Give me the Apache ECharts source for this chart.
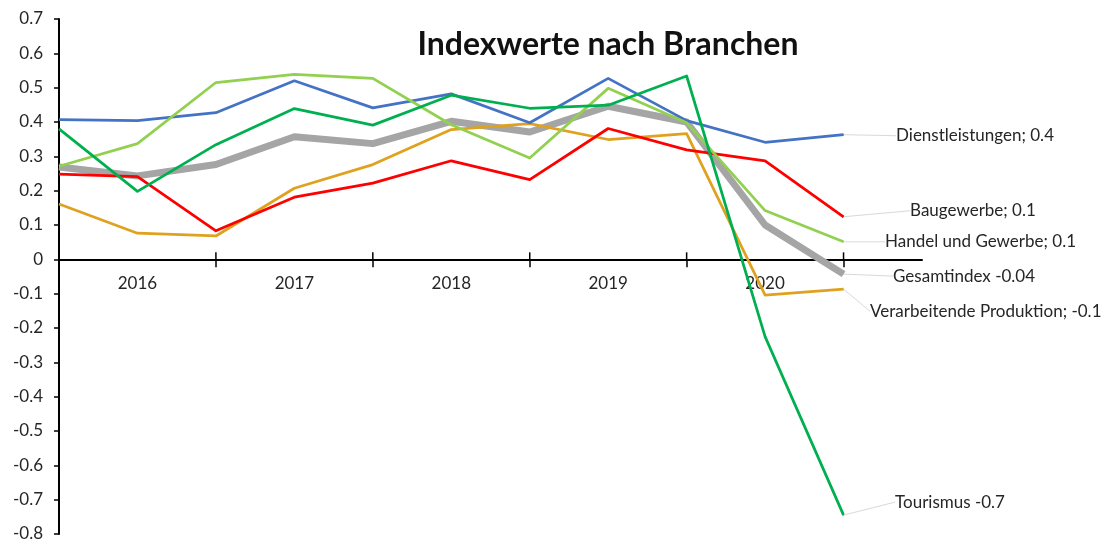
<!DOCTYPE html>
<html>
<head>
<meta charset="utf-8">
<title>Indexwerte nach Branchen</title>
<script src="https://cdn.jsdelivr.net/npm/echarts@6/dist/echarts.min.js"></script>
<style>
  html, body { margin: 0; padding: 0; background: #fff; }
  #chart { width: 1116px; height: 545px; }
</style>
</head>
<body>
<div id="chart"></div>
<script>
// Halbjahres-Stützstellen, Jahreslabel jeweils in der Mitte
var categories = ['', '2016', '', '2017', '', '2018', '', '2019', '', '2020', '', ''];
// Jahresgrenzen (Index in categories), dort sitzen die Striche
var yearBounds = [2, 4, 6, 8, 10];

var gesamtindex     = [0.269, 0.243, 0.276, 0.357, 0.337, 0.402, 0.371, 0.446, 0.400, 0.100, -0.043];
var verarbeitende   = [0.161, 0.076, 0.068, 0.207, 0.276, 0.378, 0.395, 0.349, 0.366, -0.104, -0.087];
var baugewerbe      = [0.248, 0.241, 0.083, 0.181, 0.222, 0.287, 0.232, 0.381, 0.319, 0.287, 0.124];
var handel          = [0.271, 0.337, 0.515, 0.539, 0.527, 0.392, 0.295, 0.498, 0.398, 0.142, 0.051];
var dienstleistung  = [0.407, 0.404, 0.427, 0.520, 0.441, 0.482, 0.398, 0.527, 0.404, 0.341, 0.363];
var tourismus       = [0.380, 0.198, 0.334, 0.439, 0.391, 0.478, 0.440, 0.449, 0.534, -0.225, -0.745];

var endLabels = {
    gesamt: 'Gesamtindex -0.04',
    verarb: 'Verarbeitende Produktion; -0.1',
    bau: 'Baugewerbe; 0.1',
    handel: 'Handel und Gewerbe; 0.1',
    dienst: 'Dienstleistungen; 0.4',
    tour: 'Tourismus -0.7'
};

var FONT = 'Lato, "Open Sans", sans-serif';
var GRID_BOTTOM = 11;

var tickAt = function (index) {
    return yearBounds.indexOf(index) >= 0;
};

// letzter Punkt bekommt das Datenlabel
function withEndLabel(values, text, color, distance) {
    return values.map(function (v, i) {
        if (i !== values.length - 1) return v;
        return {
            value: v,
            symbol: 'circle',
            symbolSize: 1,
            itemStyle: { color: color },
            label: {
                show: true,
                formatter: text,
                position: 'right',
                distance: distance
            }
        };
    });
}

function makeSeries(name, values, text, color, width, distance, dy) {
    return {
        name: name,
        type: 'line',
        data: withEndLabel(values, text, color, distance),
        symbol: 'none',
        showSymbol: true,
        showAllSymbol: true,
        lineStyle: { color: color, width: width, join: 'round' },
        itemStyle: { color: color },
        label: {
            show: false,
            color: '#262626',
            fontSize: 17,
            fontFamily: FONT
        },
        labelLayout: { dy: dy },
        labelLine: {
            show: true,
            lineStyle: { color: '#d9d9d9', width: 1 }
        },
        emphasis: { disabled: true }
    };
}

var chart = echarts.init(document.getElementById('chart'));

chart.setOption({
    animation: false,
    backgroundColor: '#fff',
    textStyle: { fontFamily: FONT },
    title: {
        text: 'Indexwerte nach Branchen',
        left: 603,
        top: 24,
        textAlign: 'center',
        textStyle: { fontSize: 32, fontWeight: 'bold', color: '#111', fontFamily: FONT }
    },
    grid: { left: 59, right: 194, top: 19, bottom: GRID_BOTTOM, outerBoundsMode: 'none' },
    xAxis: {
        type: 'category',
        data: categories,
        boundaryGap: false,
        axisLine: { onZero: false, lineStyle: { color: '#000', width: 2 } },
        axisTick: { show: true, interval: tickAt, length: 8, lineStyle: { color: '#000', width: 1.5 } },
        axisLabel: { interval: 0, margin: 16, color: '#262626', fontSize: 17, fontFamily: FONT },
        splitLine: { show: false }
    },
    yAxis: {
        type: 'value',
        min: -0.8,
        max: 0.7,
        interval: 0.1,
        axisLine: { show: true, lineStyle: { color: '#000', width: 2 } },
        axisTick: { show: true, length: 5, lineStyle: { color: '#000', width: 1.5 } },
        axisLabel: { margin: 16, color: '#262626', fontSize: 17, fontFamily: FONT },
        splitLine: { show: false }
    },
    series: [
        makeSeries('Gesamtindex', gesamtindex, endLabels.gesamt, '#a5a5a5', 7, 49, 2),
        makeSeries('Verarbeitende Produktion', verarbeitende, endLabels.verarb, '#e0a21e', 2.75, 26, 22),
        makeSeries('Baugewerbe', baugewerbe, endLabels.bau, '#ff0000', 2.75, 66, -6),
        makeSeries('Dienstleistungen', dienstleistung, endLabels.dienst, '#4472c4', 2.75, 52, 1),
        makeSeries('Handel und Gewerbe', handel, endLabels.handel, '#92d050', 2.75, 41, 0),
        makeSeries('Tourismus', tourismus, endLabels.tour, '#00b050', 2.75, 51, -13),
        {
            // obere Hälfte der Kreuz-Striche an den Jahresgrenzen
            type: 'custom',
            silent: true,
            z: 1,
            data: yearBounds.map(function (i) { return [i, 0]; }),
            encode: { x: 0, y: 1 },
            renderItem: function (params, api) {
                var p = api.coord([api.value(0), api.value(1)]);
                return {
                    type: 'line',
                    shape: { x1: p[0], y1: p[1], x2: p[0], y2: p[1] - 7 },
                    style: { stroke: '#000', lineWidth: 1.5 }
                };
            }
        }
    ]
});

// x-Achse samt Beschriftung auf die Nulllinie schieben
var zeroY = chart.convertToPixel({ yAxisIndex: 0 }, 0);
chart.setOption({ xAxis: { offset: zeroY - (chart.getHeight() - GRID_BOTTOM) } });

window.onresize = chart.resize;
</script>
</body>
</html>
